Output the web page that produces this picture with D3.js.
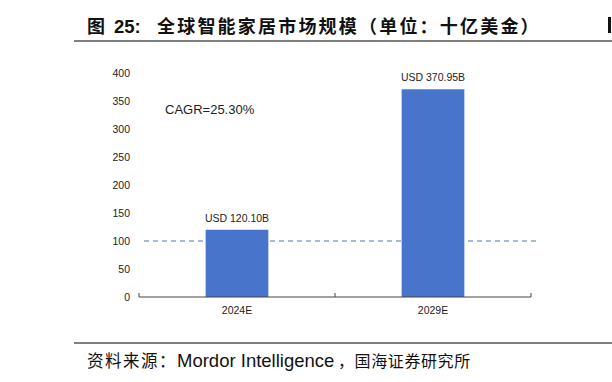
<!DOCTYPE html>
<html><head><meta charset="utf-8">
<script src="https://cdn.jsdelivr.net/npm/d3@7"></script>
<style>body{margin:0;background:#fff;}svg{display:block;}</style>
</head><body>
<script>
const categories = ["2024E", "2029E"];
const values = [120.10, 370.95];
const valueLabels = ["USD 120.10B", "USD 370.95B"];
const yTicks = [0, 50, 100, 150, 200, 250, 300, 350, 400];
const refValue = 100;
const cagrText = "CAGR=25.30%";
const titleParts = ["图", "25:", "全球智能家居市场规模（单位：十亿美金）"];
const sourceParts = ["资料来源：", "Mordor Intelligence", "，国海证券研究所"];

const W = 612, H = 382;
const svg = d3.select("body").append("svg").attr("width", W).attr("height", H);
const font = "Arial, 'Liberation Sans', sans-serif";
const cjk = "'Noto Sans CJK SC', sans-serif";

// Title
const title = svg.append("text").attr("y", 33).attr("fill", "#111").attr("font-weight", "bold");
title.append("tspan").attr("x", 87).attr("font-family", cjk).attr("font-size", 18).text(titleParts[0]);
title.append("tspan").attr("x", 114).attr("font-family", font).attr("font-size", 18.5).text(titleParts[1]);
title.append("tspan").attr("x", 157).attr("font-family", cjk).attr("font-size", 18).attr("letter-spacing", 2.2).text(titleParts[2]);
svg.append("rect").attr("x", 608).attr("y", 17).attr("width", 3).attr("height", 16).attr("fill", "#111");
svg.append("line").attr("x1", 74).attr("x2", 612).attr("y1", 41).attr("y2", 41)
  .attr("stroke", "#7f7f7f").attr("stroke-width", 2);

// Chart
const x = d3.scaleBand().domain(categories).range([139, 531]).paddingInner(0.68).paddingOuter(0.34);
const y = d3.scaleLinear().domain([0, 400]).range([297, 73]);

// y labels
svg.append("g").attr("transform", "translate(139,0)")
  .call(d3.axisLeft(y).tickValues(yTicks).tickSize(0).tickPadding(9))
  .call(g => g.select(".domain").remove())
  .call(g => g.selectAll("text").attr("font-family", font).attr("font-size", 10.5).attr("fill", "#222"));

// bars
svg.selectAll("rect.bar").data(values).enter().append("rect")
  .attr("class", "bar")
  .attr("x", (d, i) => x(categories[i]))
  .attr("width", x.bandwidth())
  .attr("y", d => y(d))
  .attr("height", d => y(0) - y(d))
  .attr("fill", "#4874CB");

// dashed reference line
svg.append("line").attr("x1", 144).attr("x2", 537).attr("y1", y(refValue)).attr("y2", y(refValue))
  .attr("stroke", "#4874CB").attr("stroke-width", 1).attr("stroke-dasharray", "5,4");

// x axis
const band = d3.scaleBand().domain(categories).range([139, 531]);
const xAxis = svg.append("g").attr("transform", "translate(0,297)");
xAxis.append("line").attr("x1", 139).attr("x2", 531).attr("y1", 0).attr("y2", 0).attr("stroke", "#444").attr("stroke-width", 1);
const tickPos = [139, 139 + band.step(), 531];
xAxis.selectAll("line.tk").data(tickPos).enter().append("line").attr("class", "tk")
  .attr("x1", d => d).attr("x2", d => d).attr("y1", 0).attr("y2", -4).attr("stroke", "#444");
xAxis.selectAll("text").data(categories).enter().append("text")
  .attr("x", d => band(d) + band.bandwidth() / 2).attr("y", 17)
  .attr("text-anchor", "middle").attr("font-family", font).attr("font-size", 10.5).attr("fill", "#222")
  .text(d => d);

// value labels
svg.selectAll("text.vl").data(values).enter().append("text").attr("class", "vl")
  .attr("x", (d, i) => x(categories[i]) + x.bandwidth() / 2)
  .attr("y", d => y(d) - 8)
  .attr("text-anchor", "middle").attr("font-family", font).attr("font-size", 10.5).attr("fill", "#222")
  .text((d, i) => valueLabels[i]);

// CAGR
svg.append("text").attr("x", 165).attr("y", 114).attr("font-family", font).attr("font-size", 13).attr("fill", "#222")
  .text(cagrText);

// Source
svg.append("line").attr("x1", 74).attr("x2", 612).attr("y1", 343).attr("y2", 343).attr("stroke", "#000").attr("stroke-width", 1);
const src = svg.append("text").attr("y", 367).attr("fill", "#111");
src.append("tspan").attr("x", 87).attr("font-family", cjk).attr("font-size", 16.5).attr("letter-spacing", 1.5).text(sourceParts[0]);
src.append("tspan").attr("x", 177).attr("font-family", font).attr("font-size", 18.5).text(sourceParts[1]);
src.append("tspan").attr("x", 338).attr("font-family", cjk).attr("font-size", 16).attr("letter-spacing", 0.6).text(sourceParts[2]);
</script>
</body></html>
